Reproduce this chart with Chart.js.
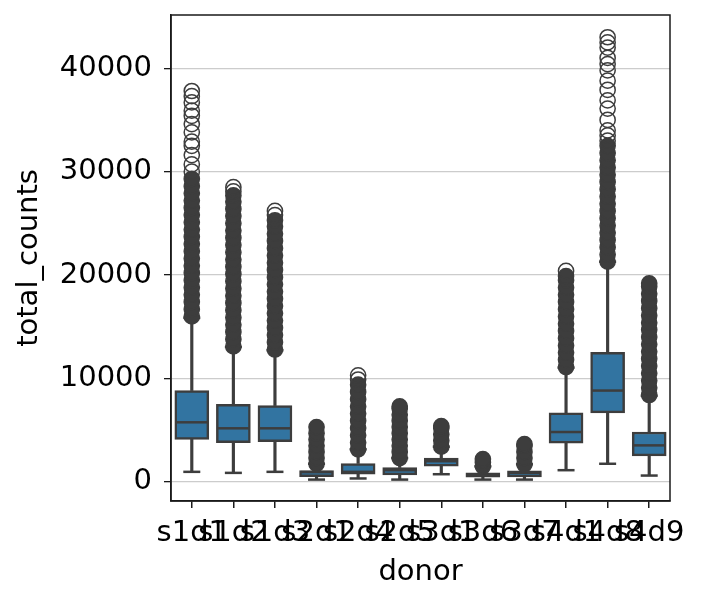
<!DOCTYPE html>
<html>
<head>
<meta charset="utf-8">
<script src="https://cdn.jsdelivr.net/npm/chart.js@4/dist/chart.umd.min.js"></script>
<style>
  html, body { margin: 0; padding: 0; background: #fff; }
  #wrap { width: 703px; height: 604px; position: relative; }
</style>
</head>
<body>
<div id="wrap"><canvas id="boxChart"></canvas></div>
<script>
// donors on the x axis
const categories = ['s1d1', 's1d2', 's1d3', 's2d1', 's2d4', 's2d5', 's3d1', 's3d6', 's3d7', 's4d1', 's4d8', 's4d9'];

// box statistics of total_counts per donor
const whiskerLow  = [970, 870, 970, 220, 330, 220, 740, 220, 220, 1130, 1750, 610];
const q1          = [4110, 3790, 3880, 510, 740, 680, 1520, 450, 480, 3750, 6670, 2520];
const median      = [5760, 5180, 5180, 940, 970, 1130, 2000, 680, 870, 4820, 8830, 3530];
const q3          = [8835, 7510, 7380, 1090, 1780, 1390, 2290, 870, 1070, 6670, 12520, 4820];
const whiskerHigh = [15860, 13040, 12720, 1750, 3150, 2300, 3400, 1500, 1700, 11040, 21290, 8320];

// outliers where they pile up into a solid column
const fliersDense = [
  [16000, 16700, 17400, 18100, 18800, 19500, 20200, 20900, 21600, 22300, 23000, 23700, 24400, 25100, 25800, 26500, 27200, 27900, 28600, 29300],
  [13100, 13800, 14500, 15200, 15900, 16600, 17300, 18000, 18700, 19400, 20100, 20800, 21500, 22200, 22900, 23600, 24300, 25000, 25700, 26400, 27100, 27700],
  [12800, 13500, 14200, 14900, 15600, 16300, 17000, 17700, 18400, 19100, 19800, 20500, 21200, 21900, 22600, 23300, 24000, 24700, 25300],
  [1750, 2300, 2900, 3500, 4100, 4700, 5300],
  [3150, 3800, 4500, 5200, 5900, 6600, 7300, 8000, 8700, 9400],
  [2300, 2900, 3500, 4100, 4700, 5300, 5900, 6500, 7100, 7300],
  [3400, 4000, 4600, 5200, 5400],
  [1500, 1900, 2200],
  [1700, 2300, 2900, 3500, 3650],
  [11100, 11800, 12500, 13200, 13900, 14600, 15300, 16000, 16700, 17400, 18100, 18800, 19500, 19900],
  [21300, 22000, 22700, 23400, 24100, 24800, 25500, 26200, 26900, 27600, 28300, 29000, 29700, 30400, 31100, 31800, 32500],
  [8400, 9100, 9800, 10500, 11200, 11900, 12600, 13300, 14000, 14700, 15400, 16100, 16800, 17500, 18200, 18900, 19200]
];

// the few separate outliers near the top of each column
const fliersSparse = [
  [30000, 30700, 31600, 32500, 32900, 33800, 34600, 35400, 35900, 36700, 37300, 37800],
  [28100, 28500],
  [25800, 26200],
  [],
  [9900, 10300],
  [],
  [],
  [],
  [],
  [20400],
  [33000, 33500, 34000, 35000, 36100, 36900, 37900, 38800, 39800, 40400, 41000, 42000, 42500, 43000],
  []
];

const yTicks = [0, 10000, 20000, 30000, 40000];

const BOX = '#3274a1';
const LINE = '#3d3d3d';
const FONT = 'DejaVu Sans';

function toPoints(groups) {
  const pts = [];
  groups.forEach((vals, i) => {
    vals.forEach(v => pts.push({ x: categories[i], y: v }));
  });
  return pts;
}

// top and right spines
const framePlugin = {
  id: 'frame',
  afterDraw(chart) {
    const { ctx, chartArea } = chart;
    ctx.save();
    ctx.strokeStyle = '#1a1a1a';
    ctx.lineWidth = 1.5;
    ctx.strokeRect(chartArea.left, chartArea.top, chartArea.right - chartArea.left, chartArea.bottom - chartArea.top);
    ctx.restore();
  }
};

document.addEventListener('DOMContentLoaded', function() {
  const ctx = document.getElementById('boxChart').getContext('2d');

  new Chart(ctx, {
    type: 'bar',
    data: {
      labels: categories,
      datasets: [
        {
          label: 'lower whisker',
          data: categories.map((c, i) => [whiskerLow[i], q1[i]]),
          backgroundColor: LINE,
          barThickness: 2.5,
          grouped: false,
          order: 6
        },
        {
          label: 'upper whisker',
          data: categories.map((c, i) => [q3[i], whiskerHigh[i]]),
          backgroundColor: LINE,
          barThickness: 2.5,
          grouped: false,
          order: 6
        },
        {
          label: 'box',
          data: categories.map((c, i) => [q1[i], q3[i]]),
          backgroundColor: BOX,
          borderColor: LINE,
          borderWidth: 2.5,
          borderSkipped: false,
          barThickness: 34,
          grouped: false,
          order: 5
        },
        {
          label: 'median',
          type: 'line',
          data: median,
          showLine: false,
          pointStyle: 'line',
          pointRadius: 15.5,
          pointBorderWidth: 2.5,
          pointBorderColor: LINE,
          order: 4
        },
        {
          label: 'caps low',
          type: 'line',
          data: whiskerLow,
          showLine: false,
          pointStyle: 'line',
          pointRadius: 8.5,
          pointBorderWidth: 2.5,
          pointBorderColor: LINE,
          order: 4
        },
        {
          label: 'caps high',
          type: 'line',
          data: whiskerHigh,
          showLine: false,
          pointStyle: 'line',
          pointRadius: 8.5,
          pointBorderWidth: 2.5,
          pointBorderColor: LINE,
          order: 4
        },
        {
          label: 'fliers dense',
          type: 'line',
          data: toPoints(fliersDense),
          showLine: false,
          pointStyle: 'circle',
          pointRadius: 7.6,
          pointBorderWidth: 1.5,
          pointBorderColor: LINE,
          pointBackgroundColor: LINE,
          order: 2
        },
        {
          label: 'fliers sparse',
          type: 'line',
          data: toPoints(fliersSparse),
          showLine: false,
          pointStyle: 'circle',
          pointRadius: 7.6,
          pointBorderWidth: 1.5,
          pointBorderColor: LINE,
          pointBackgroundColor: 'rgba(255,255,255,0)',
          order: 1
        }
      ]
    },
    options: {
      responsive: true,
      maintainAspectRatio: false,
      animation: false,
      events: [],
      layout: {
        autoPadding: false,
        padding: { top: 15, right: 33, left: 0, bottom: 0 }
      },
      plugins: {
        legend: { display: false },
        tooltip: { enabled: false }
      },
      scales: {
        x: {
          offset: true,
          border: { display: true, color: '#1a1a1a', width: 1.5 },
          grid: {
            offset: false,
            drawOnChartArea: false,
            drawTicks: true,
            tickLength: 7,
            tickColor: '#1a1a1a',
            lineWidth: 1.5
          },
          ticks: {
            autoSkip: false,
            maxRotation: 0,
            minRotation: 0,
            padding: 8,
            color: '#000',
            font: { family: FONT, size: 29 }
          },
          title: {
            display: true,
            text: 'donor',
            color: '#000',
            padding: { top: 0, bottom: 14 },
            font: { family: FONT, size: 29 }
          },
          afterFit: function(scale) {
            scale.height = 103;
            scale.paddingLeft = 0;
            scale.paddingRight = 0;
          }
        },
        y: {
          min: -1850,
          max: 45150,
          border: { display: true, color: '#1a1a1a', width: 1.5 },
          grid: {
            color: '#cccccc',
            lineWidth: 1.3,
            drawTicks: true,
            tickLength: 7,
            tickColor: '#1a1a1a'
          },
          afterBuildTicks: function(scale) {
            scale.ticks = yTicks.map(v => ({ value: v }));
          },
          ticks: {
            padding: 12,
            color: '#000',
            font: { family: FONT, size: 29 },
            callback: function(v) { return String(v); }
          },
          title: {
            display: true,
            text: 'total_counts',
            color: '#000',
            padding: { top: 12, bottom: 0 },
            font: { family: FONT, size: 29 }
          },
          afterFit: function(scale) {
            scale.width = 171;
            scale.paddingTop = 0;
            scale.paddingBottom = 0;
          }
        }
      }
    },
    plugins: [framePlugin]
  });
});
</script>
</body>
</html>
